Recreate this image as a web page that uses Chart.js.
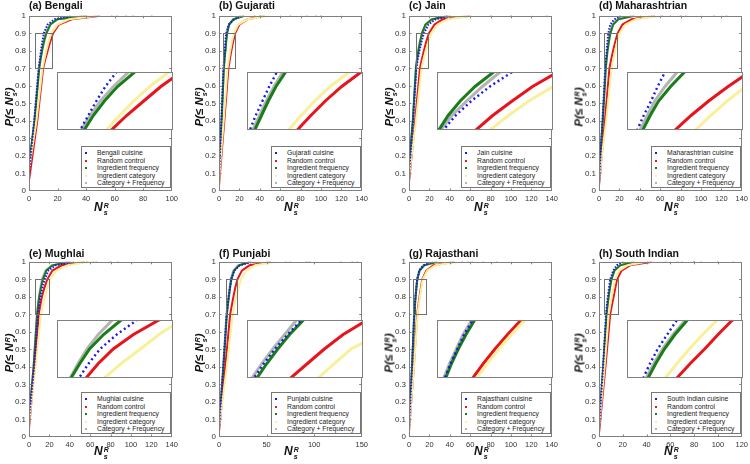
<!DOCTYPE html>
<html>
<head>
<meta charset="utf-8">
<script src="https://cdn.jsdelivr.net/npm/chart.js@4.4.1/dist/chart.umd.min.js"></script>
<style>
  body { margin: 0; width: 750px; height: 464px; position: relative; overflow: hidden; background: #fff;
         font-family: "Liberation Sans", Arial, sans-serif; }
  canvas { position: absolute; }
  .inset { background: #fff; }
  .title { position: absolute; font-weight: bold; font-size: 10.5px; line-height: 10px; color: #111; white-space: nowrap; }
  .legend { position: absolute; border: 1px solid #777; background: #fff; box-sizing: border-box; }
  .legend div { position: absolute; left: 15px; font-size: 6.8px; line-height: 8px; color: #222; white-space: nowrap; }
  .legend span { position: absolute; left: 3px; width: 2px; height: 2px; }
  .ylab, .xlab { position: absolute; font-weight: bold; font-style: italic; color: #111; white-space: nowrap; font-size: 11.5px; line-height: 13px; }
  .ylab { transform: translate(-50%, -50%) rotate(-90deg); }
  .xlab { font-size: 12px; }
  .ss { display: inline-block; font-size: 7px; line-height: 7px; vertical-align: -4px; margin-left: 1px; text-align: left; }
  .ss b { display: block; font-weight: bold; }
</style>
</head>
<body>
<script>
// panels, in reading order
const panelNames = ['Bengali', 'Gujarati', 'Jain', 'Maharashtrian', 'Mughlai', 'Punjabi', 'Rajasthani', 'South Indian'];
const panelLetters = ['a', 'b', 'c', 'd', 'e', 'f', 'g', 'h'];
const otherLabels = ['Random control', 'Ingredient frequency', 'Ingredient category', 'Category + Frequency'];

const xMax = [100, 140, 140, 140, 140, 150, 140, 120];
const xTicks100 = [0, 20, 40, 60, 80, 100];
const xTicks120 = [0, 20, 40, 60, 80, 100, 120];
const xTicks140 = [0, 20, 40, 60, 80, 100, 120, 140];
const xTicks150 = [0, 50, 100, 150];
const panelXTicks = [xTicks100, xTicks140, xTicks140, xTicks140, xTicks140, xTicks150, xTicks140, xTicks120];
const yTicks = [0, 0.1, 0.2, 0.3, 0.4, 0.5, 0.6, 0.7, 0.8, 0.9, 1];
const yTickLabels = ['0', '0.1', '0.2', '0.3', '0.4', '0.5', '0.6', '0.7', '0.8', '0.9', '1'];

// zoomed window shown in each inset (x range, y range)
const zoomX = [[4.5, 16], [4, 16], [6.5, 19], [5, 17.5], [6.3, 19.5], [7.3, 19], [4.3, 16.3], [4.2, 16.3]];
const zoomY = [0.7, 0.9];

const pLevels = [0.4, 0.7, 0.75, 0.8, 0.85, 0.9, 0.95, 0.98, 1];

// series order: cuisine, random control, ingredient frequency, ingredient category, category + frequency
const startP = [
  [0.10, 0.06, 0.15, 0.12, 0.12],
  [0.08, 0.03, 0.10, 0.06, 0.10],
  [0.10, 0.05, 0.15, 0.08, 0.12],
  [0.05, 0.03, 0.10, 0.06, 0.08],
  [0.10, 0.05, 0.10, 0.08, 0.10],
  [0.05, 0.03, 0.05, 0.05, 0.06],
  [0.05, 0.03, 0.05, 0.04, 0.06],
  [0.05, 0.02, 0.05, 0.05, 0.06]
];

const bengaliX = [
  [3.6, 6.8, 7.6, 8.4, 9.3, 10.4, 13, 18, 30],
  [5.8, 9.9, 11.4, 13.1, 14.8, 16.8, 21, 30, 50],
  [3.9, 7.2, 8.1, 9.2, 10.5, 12.2, 15, 20, 40],
  [5.2, 9.4, 10.7, 12.1, 13.7, 15.6, 20, 28, 48],
  [3.8, 6.9, 7.8, 8.8, 10.1, 11.6, 14.5, 20, 42]
];
const gujaratiX = [
  [2.3, 4.3, 4.9, 5.6, 6.3, 7.1, 9.5, 15, 22],
  [5.2, 9.2, 10.6, 12.1, 13.8, 15.8, 20, 28, 45],
  [2.6, 4.8, 5.5, 6.2, 7.0, 8.0, 10, 14, 25],
  [4.6, 8.3, 9.6, 11.0, 12.6, 14.6, 19, 28, 50],
  [2.5, 4.6, 5.3, 6.0, 6.8, 7.7, 9.8, 14, 24]
];
const jainX = [
  [4.0, 7.2, 8.5, 10.2, 12.2, 14.6, 19, 26, 40],
  [6.0, 10.7, 12.5, 14.6, 16.8, 19.5, 25, 33, 60],
  [3.7, 6.7, 7.7, 9.0, 10.6, 12.6, 16, 22, 38],
  [6.8, 12.2, 14.2, 16.4, 19.0, 22.0, 28, 38, 62],
  [3.9, 6.9, 8.1, 9.7, 11.4, 13.3, 17, 24, 40]
];
const maharashtrianX = [
  [3.4, 6.1, 6.8, 7.6, 8.3, 9.1, 11, 15, 22],
  [5.8, 10.2, 11.9, 13.8, 15.9, 18.2, 23, 32, 55],
  [3.7, 6.7, 7.5, 8.4, 9.7, 11.2, 14, 19, 35],
  [7.0, 12.4, 14.0, 15.8, 17.8, 20.2, 26, 36, 60],
  [3.6, 6.4, 7.2, 8.0, 9.1, 10.4, 13, 18, 32]
];
const mughlaiX = [
  [5.0, 8.8, 9.9, 11.2, 13.1, 15.4, 19, 26, 45],
  [5.5, 9.6, 11.0, 12.7, 15.0, 17.9, 23, 32, 55],
  [4.5, 7.9, 8.9, 10.0, 11.6, 13.6, 17, 23, 40],
  [6.5, 11.7, 13.6, 15.8, 17.9, 20.5, 27, 38, 60],
  [4.4, 7.8, 8.7, 9.7, 11.0, 12.6, 16, 22, 38]
];
const punjabiX = [
  [4.5, 8.0, 9.0, 10.1, 11.4, 12.8, 16, 22, 35],
  [6.6, 11.7, 13.4, 15.1, 17.0, 19.4, 24, 32, 55],
  [4.7, 8.3, 9.3, 10.4, 11.6, 13.0, 16, 21, 33],
  [8.2, 14.5, 16.1, 17.8, 20.6, 23.2, 29, 38, 60],
  [4.4, 7.8, 8.8, 9.9, 11.1, 12.3, 15, 20, 32]
];
const rajasthaniX = [
  [3.0, 5.1, 5.7, 6.4, 7.1, 8.0, 10, 14, 25],
  [4.7, 8.0, 9.1, 10.3, 11.6, 13.0, 17, 24, 45],
  [3.0, 5.2, 5.8, 6.5, 7.3, 8.2, 10.5, 15, 28],
  [4.9, 8.4, 9.5, 10.7, 12.0, 13.4, 18, 26, 48],
  [2.9, 5.0, 5.6, 6.3, 7.0, 7.9, 10, 14, 26]
];
const southIndianX = [
  [3.4, 5.9, 6.6, 7.4, 8.4, 9.4, 12, 15, 20],
  [5.4, 9.4, 10.8, 12.3, 13.7, 15.2, 19, 26, 45],
  [3.6, 6.4, 7.2, 8.1, 9.2, 10.5, 13, 18, 30],
  [4.7, 8.2, 9.4, 10.7, 12.1, 13.6, 17, 24, 40],
  [3.5, 6.2, 7.0, 7.9, 9.0, 10.3, 13, 17, 28]
];
const panelX = [bengaliX, gujaratiX, jainX, maharashtrianX, mughlaiX, punjabiX, rajasthaniX, southIndianX];

// stray points sitting on P = 1 far to the right
const tailX = [
  [[], [58, 62, 68, 73, 86], [], [55], []],
  [[], [70, 86, 95, 100], [35, 40], [60], []],
  [[], [80, 100, 135], [], [80], []],
  [[], [62, 70, 80, 85, 113, 125], [], [75], []],
  [[], [57, 66, 80, 87], [63], [], []],
  [[], [70, 75, 92, 95, 128, 140, 145], [], [], []],
  [[], [52, 58, 62, 73, 86], [], [], []],
  [[], [56, 66, 70, 80, 86, 100, 113], [80], [], []]
];

const colors = ['#1818e8', '#e8141c', '#1a7d1a', '#f8f09a', '#b4b4b4'];
const drawOrder = [0, 2, 3, 1, 4]; // lower = drawn on top

const colLeft = [29, 219, 409, 599];
const rowTop = [14, 260];
const plotW = 144, plotH = 177;

// box, inward ticks and the zoom rectangle
const boxPlugin = {
  id: 'box',
  afterDatasetsDraw(chart, args, opts) {
    const { ctx, chartArea: a } = chart;
    const xs = chart.scales.x, ys = chart.scales.y;
    ctx.save();
    ctx.strokeStyle = '#808080';
    ctx.lineWidth = 1;
    if (opts.ticks) {
      ctx.beginPath();
      xs.ticks.forEach(t => {
        if (t.value <= xs.min || t.value >= xs.max) return;
        const p = Math.round(xs.getPixelForValue(t.value)) + 0.5;
        ctx.moveTo(p, a.bottom); ctx.lineTo(p, a.bottom - 2.5);
        ctx.moveTo(p, a.top); ctx.lineTo(p, a.top + 2.5);
      });
      ys.ticks.forEach(t => {
        if (t.value <= ys.min || t.value >= ys.max) return;
        const p = Math.round(ys.getPixelForValue(t.value)) + 0.5;
        ctx.moveTo(a.left, p); ctx.lineTo(a.left + 2.5, p);
        ctx.moveTo(a.right, p); ctx.lineTo(a.right - 2.5, p);
      });
      ctx.stroke();
    }
    if (opts.zoom) {
      const x0 = Math.round(xs.getPixelForValue(opts.zoom[0])) + 0.5;
      const x1 = Math.round(xs.getPixelForValue(opts.zoom[1])) + 0.5;
      const y0 = Math.round(ys.getPixelForValue(zoomY[1])) + 0.5;
      const y1 = Math.round(ys.getPixelForValue(zoomY[0])) + 0.5;
      ctx.strokeStyle = '#707070';
      ctx.strokeRect(x0, y0, x1 - x0, y1 - y0);
    }
    ctx.strokeStyle = '#808080';
    ctx.strokeRect(Math.round(a.left) + 0.5, Math.round(a.top) + 0.5,
      Math.round(a.right - a.left) - 1, Math.round(a.bottom - a.top) - 1);
    ctx.restore();
  }
};

function curvePoints(p0, xs) {
  return [{ x: 0, y: p0 }].concat(xs.map((x, i) => ({ x: x, y: pLevels[i] })));
}

function buildDatasets(k, inset) {
  const sets = [];
  panelX[k].forEach((xs, i) => {
    sets.push({
      data: curvePoints(startP[k][i], xs),
      showLine: true,
      borderColor: colors[i],
      borderWidth: inset ? (i === 0 ? 2.4 : 3) : 2,
      borderDash: i === 0 ? (inset ? [2, 3] : [1.5, 1.5]) : [],
      pointRadius: 0,
      tension: 0,
      order: drawOrder[i]
    });
    if (!inset && tailX[k][i].length) {
      sets.push({
        data: tailX[k][i].map(x => ({ x: x, y: 1 })),
        showLine: false,
        pointStyle: 'rect',
        pointRadius: 1.2,
        borderWidth: 0,
        backgroundColor: colors[i],
        order: drawOrder[i]
      });
    }
  });
  return sets;
}

function addCanvas(left, top, w, h, cls) {
  const c = document.createElement('canvas');
  c.width = w; c.height = h;
  c.style.left = left + 'px'; c.style.top = top + 'px';
  c.style.width = w + 'px'; c.style.height = h + 'px';
  if (cls) c.className = cls;
  document.body.appendChild(c);
  return c;
}

function addDiv(cls, left, top, html) {
  const d = document.createElement('div');
  d.className = cls;
  d.style.left = left + 'px'; d.style.top = top + 'px';
  d.innerHTML = html;
  document.body.appendChild(d);
  return d;
}

const xTickFont = { family: '"Liberation Sans", Arial, sans-serif', size: 7.5 };
const yTickFont = { family: '"Liberation Sans", Arial, sans-serif', size: 8 };
const supSub = '<span class="ss"><b>R</b><b>s</b></span>';

panelNames.forEach((name, k) => {
  const L = colLeft[k % 4];
  const T = rowTop[Math.floor(k / 4)];
  const row = Math.floor(k / 4);

  // main axes
  const main = addCanvas(L - 29, T - 6, 29 + plotW + 8, 6 + plotH + 14);
  new Chart(main, {
    type: 'scatter',
    data: { datasets: buildDatasets(k, false) },
    options: {
      responsive: false,
      animation: false,
      events: [],
      layout: { padding: { top: 6, right: 8, left: 0, bottom: 0 } },
      plugins: { legend: { display: false }, tooltip: { enabled: false },
                 box: { ticks: true, zoom: zoomX[k] } },
      scales: {
        x: {
          type: 'linear', min: 0, max: xMax[k],
          grid: { display: false, drawTicks: false }, border: { display: false },
          afterBuildTicks: s => { s.ticks = panelXTicks[k].map(v => ({ value: v })); },
          afterFit: s => { s.height = 14; },
          ticks: { font: xTickFont, color: '#333', padding: 3, maxRotation: 0, autoSkip: false,
                   callback: v => String(v) }
        },
        y: {
          type: 'linear', min: 0, max: 1,
          grid: { display: false, drawTicks: false }, border: { display: false },
          afterBuildTicks: s => { s.ticks = yTicks.map(v => ({ value: v })); },
          afterFit: s => { s.width = 29; },
          ticks: { font: yTickFont, color: '#333', padding: 3, autoSkip: false,
                   callback: (v, i) => yTickLabels[i] }
        }
      }
    },
    plugins: [boxPlugin]
  });

  // inset with the zoomed window
  const insetTop = row === 0 ? T + 58 : T + 60;
  const ins = addCanvas(L + 28, insetTop, plotW - 28, 58, 'inset');
  new Chart(ins, {
    type: 'scatter',
    data: { datasets: buildDatasets(k, true) },
    options: {
      responsive: false,
      animation: false,
      events: [],
      layout: { padding: 0 },
      plugins: { legend: { display: false }, tooltip: { enabled: false }, box: { ticks: false } },
      scales: {
        x: { type: 'linear', display: false, min: zoomX[k][0], max: zoomX[k][1] },
        y: { type: 'linear', display: false, min: zoomY[0], max: zoomY[1] }
      }
    },
    plugins: [boxPlugin]
  });

  // legend
  const labels = [name + ' cuisine'].concat(otherLabels);
  const lg = addDiv('legend', L + 52, T + 132, '');
  lg.style.width = '90px'; lg.style.height = '42px';
  labels.forEach((t, i) => {
    const y = 6.5 + i * 7.6;
    lg.innerHTML += '<span style="top:' + (y - 1.5) + 'px;background:' + colors[i] + '"></span>' +
                    '<div style="top:' + (y - 4.5) + 'px">' + t + '</div>';
  });

  // titles and axis labels
  addDiv('title', L, row === 0 ? T - 14 : T - 12, '(' + panelLetters[k] + ') ' + name);
  addDiv('ylab', L - 19, T + 93, 'P(≤ N' + supSub + ')');
  addDiv('xlab', L + 65, T + plotH + (row === 0 ? 10 : 8), 'N' + supSub);
});
</script>
</body>
</html>
